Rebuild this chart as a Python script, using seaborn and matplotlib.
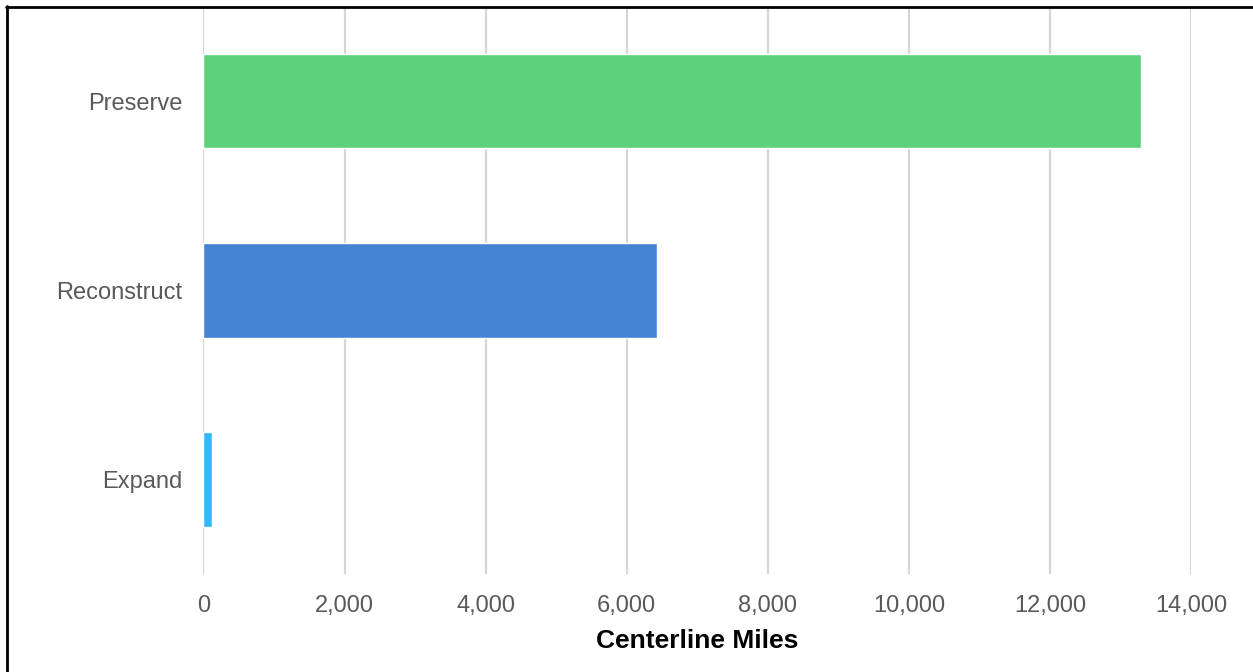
import matplotlib
matplotlib.use("Agg")
import matplotlib.pyplot as plt
import seaborn as sns
import pandas as pd
from matplotlib.lines import Line2D
from matplotlib.ticker import FuncFormatter

# Centerline miles by treatment category
categories = ["Preserve", "Reconstruct", "Expand"]
miles = [13295, 6430, 115]
bar_colors = ["#5DD27A", "#4584D3", "#33B6FF"]
x_ticks = [0, 2000, 4000, 6000, 8000, 10000, 12000, 14000]

sns.set_theme(style="white")
plt.rcParams["font.family"] = ["Liberation Sans", "DejaVu Sans"]

df = pd.DataFrame({"category": categories, "miles": miles})

fig = plt.figure(figsize=(12.53, 6.72), dpi=100)
ax = fig.add_axes([0.1624, 0.1458, 0.7881, 0.8445])

sns.barplot(data=df, x="miles", y="category", hue="category",
            palette=bar_colors, order=categories, hue_order=categories,
            orient="h", width=0.5, legend=False, saturation=1, ax=ax,
            zorder=3)

ax.set_xlim(0, 14000)
ax.set_ylim(2.5, -0.5)
ax.set_xticks(x_ticks)
ax.xaxis.set_major_formatter(FuncFormatter(lambda v, p: f"{int(v):,}"))
ax.grid(axis="x", color="#D6D6D6", linewidth=1.6, zorder=0)
ax.grid(axis="y", visible=False)
for s in ax.spines.values():
    s.set_visible(False)

ax.tick_params(axis="x", length=0, pad=15, labelsize=17, labelcolor="#595959")
ax.tick_params(axis="y", length=0, pad=15, labelsize=17, labelcolor="#595959")
ax.set_ylabel("")
ax.set_xlabel("Centerline Miles", fontsize=19, fontweight="bold",
              color="black", labelpad=9)

# Frame along the left and top edges of the figure
W, H = 1253, 672
fig.add_artist(Line2D([7 / W, 7 / W], [0, 1 - 6 / H], color="black",
                      linewidth=2.0, transform=fig.transFigure))
fig.add_artist(Line2D([6 / W, 1], [1 - 7 / H, 1 - 7 / H], color="black",
                      linewidth=2.0, transform=fig.transFigure))

fig.savefig("out.png", dpi=100, facecolor="white")
